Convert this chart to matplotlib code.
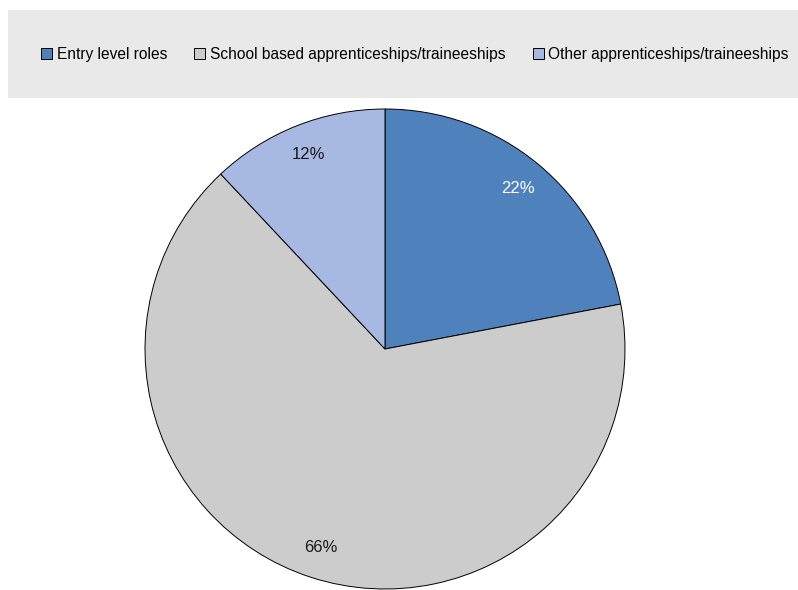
import matplotlib.pyplot as plt
from matplotlib.patches import Rectangle

plt.rcParams['font.family'] = ['Liberation Sans', 'DejaVu Sans']

labels = ['Entry level roles', 'School based apprenticeships/traineeships',
          'Other apprenticeships/traineeships']
shares = [22, 66, 12]
colors = ['#4f81bd', '#cccccc', '#a7b9e3']
pct_colors = ['white', '#1a1a1a', '#1a1a1a']

fig = plt.figure(figsize=(7.98, 5.9), dpi=100)

# grey legend band
fig.patches.append(Rectangle((8 / 798, 1 - 98 / 590), 790 / 798, 88 / 590,
                             transform=fig.transFigure, facecolor='#e9e9e9',
                             edgecolor='none', zorder=0))

ax = fig.add_axes([(385 - 240) / 798, (590 - 349 - 240) / 590, 480 / 798, 480 / 590])
wedges, texts = ax.pie(shares, colors=colors, startangle=90, counterclock=False,
                       labels=[f'{v}%' for v in shares], labeldistance=0.87,
                       wedgeprops=dict(edgecolor='black', linewidth=0.7),
                       textprops=dict(fontsize=12, ha='center', va='center'))
for t, c in zip(texts, pct_colors):
    t.set_color(c)
    t.set_ha('center')
ax.set_aspect('equal')
ax.set_xlim(-1, 1)
ax.set_ylim(-1, 1)

fig.legend(wedges, labels, loc='center left', bbox_to_anchor=(35 / 798, 1 - 54 / 590),
           ncol=3, frameon=False, fontsize=11.2, handlelength=0.7, handleheight=0.7,
           handletextpad=0.3, columnspacing=1.75, borderaxespad=0)

fig.savefig('out.png', dpi=100)
